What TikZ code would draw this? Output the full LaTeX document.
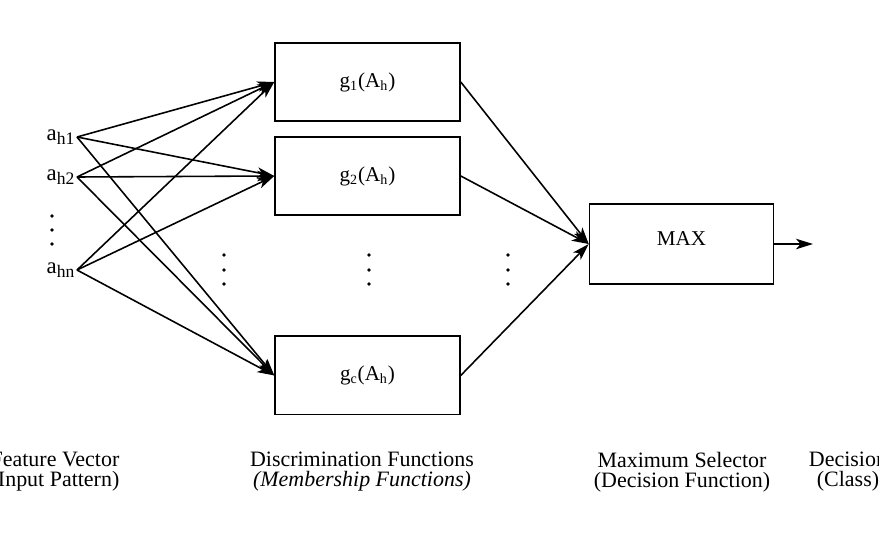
\documentclass[tikz,border=0pt]{standalone}
\usepackage{fontspec}
\setmainfont{Liberation Serif}
\usetikzlibrary{positioning, arrows.meta}
\newcommand{\featsub}[1]{\raisebox{-0.45ex}{\fontsize{10}{10}\selectfont #1}}

\begin{document}
\begin{tikzpicture}[x=0.02cm, y=-0.02cm, on grid, line width=0.9pt,
      font=\fontsize{12}{13}\selectfont,
      func/.style={draw, rectangle, minimum width=3.7cm, minimum height=1.57cm, inner sep=0pt},
      feat/.style={anchor=east, inner sep=1pt, font=\fontsize{13}{14}\selectfont},
      arr/.style={-{Stealth[length=3.4mm, width=2.1mm, inset=0.9mm]}},
      caption/.style={align=center, font=\fontsize{12.5}{11.4}\selectfont}]
      \useasboundingbox (0,0) rectangle (879,551);

      \node[func] (g1) at (367.5,82) {g\textsubscript{1}(A\textsubscript{h})};
      \node[func, below=1.88cm of g1] (g2) {g\textsubscript{2}(A\textsubscript{h})};
      \node[func, below=3.99cm of g2] (gc) {g\textsubscript{c}(A\textsubscript{h})};
      \node[func, minimum width=3.68cm, minimum height=1.6cm, text depth=0.22cm] (max) at (681.5,244) {MAX};
      \coordinate (out) at (813,244);

      \node[feat] (a1) at (77,137) {a\featsub{h1}};
      \node[feat] (a2) at (77,177) {a\featsub{h2}};
      \node[feat] (an) at (77,270) {a\featsub{hn}};

      \foreach \y in {216, 230, 244}
      \fill (52,\y) circle (1.1pt);
      \foreach \x in {224, 369, 508}
      \foreach \y in {255, 270, 284}
      \fill (\x,\y) circle (1.1pt);

      \foreach \a in {a1, a2, an}
      \foreach \g in {g1, g2, gc}
      \draw[arr] (\a.east) -- (\g.west);
      \foreach \g in {g1, g2, gc}
      \draw[arr] (\g.east) -- (max.west);
      \draw[arr] (max.east) -- (out);

      \node[caption] (cfeat) at (55,472) {Feature Vector\\(Input Pattern)};
      \node[caption] (cdisc) at (362,472) {Discrimination Functions\\\textit{(Membership Functions)}};
      \node[caption] (csel) at (682,472) {Maximum Selector\\(Decision Function)};
      \node[caption] (cdec) at (848,472) {Decision\\(Class)};
    \end{tikzpicture}
\end{document}
